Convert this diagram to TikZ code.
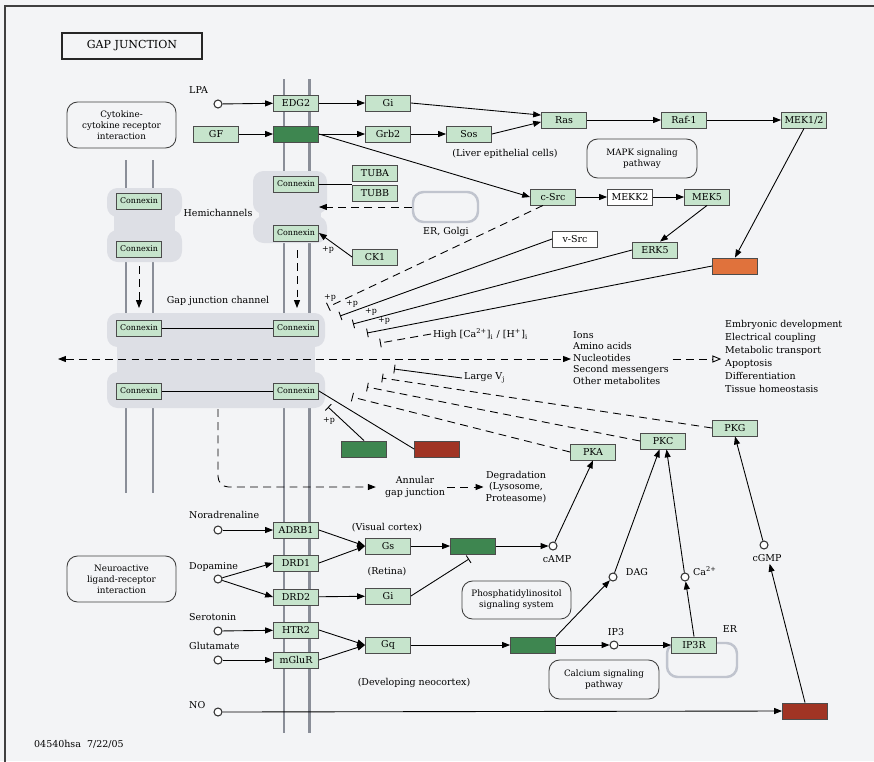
\documentclass[tikz,border=0pt]{standalone}
\usepackage{fontspec}
\setmainfont{DejaVu Serif}
\usetikzlibrary{arrows.meta, calc, positioning}

\definecolor{paper}{RGB}{243,244,246}
\definecolor{genefill}{RGB}{198,228,204}
\definecolor{dkgene}{RGB}{62,134,80}
\definecolor{rdgene}{RGB}{160,52,36}
\definecolor{orgene}{RGB}{224,114,60}
\definecolor{blob}{RGB}{221,223,229}
\definecolor{membr}{RGB}{138,142,152}
\definecolor{ercol}{RGB}{192,196,206}

\newcommand{\gfont}{\fontsize{5.4}{6.5}\selectfont}
\newcommand{\cxfont}{\fontsize{4.5}{5}\selectfont}
\newcommand{\pwfont}{\fontsize{5}{6.2}\selectfont}

\begin{document}
\begin{tikzpicture}[x=0.02cm, y=-0.02cm, line width=0.5pt,
    >={Triangle[length=4.5pt,width=3.4pt]},
    gene/.style={draw=black!70, fill=genefill, minimum width=0.9cm, minimum height=0.32cm, inner sep=0pt, font=\gfont},
    cx/.style={gene, font=\cxfont},
    hit/.style={gene, fill=dkgene},
    hitred/.style={gene, fill=rdgene},
    plain/.style={gene, fill=white},
    mol/.style={circle, draw=black!80, fill=white, minimum size=0.16cm, inner sep=0pt, line width=0.6pt},
    pathway/.style={draw=black!75, rounded corners=6pt, align=center, font=\pwfont, inner sep=0pt},
    lbl/.style={font=\gfont, inner sep=1pt},
    plbl/.style={font=\cxfont, inner sep=0pt},
    inh/.style={-{Bar[width=5pt]}},
    dsh/.style={dash pattern=on 4.5pt off 3pt},
    compart/.style={draw=ercol, line width=1.4pt, rounded corners=6pt}]

    \useasboundingbox (0,0) rectangle (874,761);
    \fill[paper] (0,0) rectangle (874,761);
    \draw[black!75, line width=0.7pt] (5,770) -- (5,6) -- (880,6);

    % Membranes
    \foreach \mx in {126,153}
        \draw[membr, line width=1.7pt] (\mx,160) -- (\mx,493);
    \foreach \mx in {284,309}
        \draw[membr, line width=1.7pt] (\mx,79) -- (\mx,733);

    % Connexons
    \fill[blob, rounded corners=6pt] (107,188) rectangle (182,217);
    \fill[blob] (114,210) rectangle (175,236);
    \fill[blob, rounded corners=6pt] (107,230) rectangle (182,262);
    \fill[blob, rounded corners=6pt] (253,171) rectangle (327,214);
    \fill[blob] (259,205) rectangle (321,225);
    \fill[blob, rounded corners=6pt] (253,216) rectangle (327,243);
    \fill[blob, rounded corners=6pt] (107,313) rectangle (325,347);
    \fill[blob] (117,340) rectangle (315,378);
    \fill[blob, rounded corners=6pt] (107,372) rectangle (325,408);

    % Title and pathway maps
    \node[draw=black!85, line width=0.7pt, minimum width=2.8cm, minimum height=0.52cm, font=\fontsize{6.3}{7}\selectfont] (title) at (132,46) {GAP JUNCTION};
    \node[pathway, minimum width=2.18cm, minimum height=0.92cm] (cyto) at (121.5,125) {Cytokine-\\cytokine receptor\\interaction};
    \node[pathway, minimum width=2.18cm, minimum height=0.92cm] (neuro) at (121.5,579) {Neuroactive\\ligand-receptor\\interaction};
    \node[pathway, minimum width=2.2cm, minimum height=0.78cm] (mapk) at (642,158.5) {MAPK signaling\\pathway};
    \node[pathway, minimum width=2.18cm, minimum height=0.76cm] (pis) at (516.5,600) {Phosphatidylinositol\\signaling system};
    \node[pathway, minimum width=2.2cm, minimum height=0.78cm] (casig) at (604,679.5) {Calcium signaling\\pathway};

    % ER / Golgi compartments
    \node[compart, minimum width=1.3cm, minimum height=0.6cm] (golgi) at (445.5,207) {};
    \node[lbl] (golgilbl) at (446,232) {ER, Golgi};
    \node[compart, minimum width=1.4cm, minimum height=0.68cm] (er) at (702,660) {};
    \node[lbl] (erlbl) at (730,629) {ER};

    % Connexins
    \node[cx] (cx1) at (139,201) {Connexin};
    \node[cx] (cx2) at (139,249) {Connexin};
    \node[cx] (cx3) at (296,184) {Connexin};
    \node[cx] (cx4) at (296,233) {Connexin};
    \node[cx] (cx5) at (139,328) {Connexin};
    \node[cx] (cx6) at (296,328) {Connexin};
    \node[cx] (cx7) at (139,391) {Connexin};
    \node[cx] (cx8) at (296,391) {Connexin};
    \node[lbl] (hemi) at (218,213) {Hemichannels};
    \node[lbl] (gjc) at (218,301) {Gap junction channel};

    % Upper signaling
    \node[lbl, anchor=west] (lpalbl) at (187,90) {LPA};
    \node[mol] (lpa) at (218,104) {};
    \node[gene] (edg2) at (296,103) {EDG2};
    \node[gene] (gi1) at (388,103) {Gi};
    \node[gene] (gf) at (216,134) {GF};
    \node[hit] (rtk) at (296,134) {};
    \node[gene] (grb2) at (388,134) {Grb2};
    \node[gene] (sos) at (469,134) {Sos};
    \node[lbl] (liver) at (505,154) {(Liver epithelial cells)};
    \node[gene] (ras) at (564,120) {Ras};
    \node[gene] (raf) at (684,120) {Raf-1};
    \node[gene] (mek12) at (804,120) {MEK1/2};
    \node[gene] (csrc) at (553,197) {c-Src};
    \node[plain] (mekk2) at (630,197) {MEKK2};
    \node[gene] (mek5) at (707,197) {MEK5};
    \node[gene] (erk5) at (655,250) {ERK5};
    \node[gene, fill=orgene] (mapkx) at (735,266) {};
    \node[plain] (vsrc) at (575,239) {v-Src};
    \node[gene] (tuba) at (375,173) {TUBA};
    \node[gene] (tubb) at (375,193) {TUBB};
    \node[gene] (ck1) at (375,257) {CK1};

    \draw[->] (lpa) -- (edg2);
    \draw[->] (gf) -- (rtk);
    \draw[->] (edg2) -- (gi1);
    \draw[->] (rtk) -- (grb2);
    \draw[->] (grb2) -- (sos);
    \draw[->] (gi1.east) -- ([yshift=2.8pt]ras.west);
    \draw[->] (sos.east) -- ([yshift=-1.1pt]ras.west);
    \draw[->] (ras) -- (raf);
    \draw[->] (raf) -- (mek12);
    \draw[->] (mek12.south) -- (mapkx.north);
    \draw[->] (rtk.east) -- (csrc.west);
    \draw[->] (csrc) -- (mekk2);
    \draw[->] (mekk2) -- (mek5);
    \draw[->] (mek5.south) -- ($(erk5.north)+(5,0)$);
    \draw (cx3.east) -- (cx3.east -| tuba.west);
    \draw[->, dsh] (golgi.west) -- (golgi.west -| cx4.east);
    \draw[->] (ck1.west) -- (cx4.east);
    \node[plbl] (pck1) at (328,250) {+p};

    % Hemichannels to gap junction
    \coordinate (hcl) at (139,266);
    \coordinate (gjl) at (139,308);
    \coordinate (hcr) at (297,250);
    \coordinate (gjr) at (297,308);
    \draw[->, dsh] (hcl) -- (gjl);
    \draw[->, dsh] (hcr) -- (gjr);
    \draw (cx5) -- (cx6);
    \draw (cx7) -- (cx8);

    % Channel closing by phosphorylation
    \coordinate (b1) at (328,307);
    \coordinate (b2) at (340,316);
    \coordinate (b3) at (353,324);
    \coordinate (b4) at (367,333);
    \coordinate (b5) at (380,343);
    \node[lbl, anchor=west] (hica) at (431,334) {High [Ca\textsuperscript{2+}]\textsubscript{i} / [H\textsuperscript{+}]\textsubscript{i}};
    \draw[inh, dsh] ($(csrc.south)+(-10,0)$) -- (b1);
    \draw[inh] (vsrc.west) -- (b2);
    \draw[inh] (erk5.west) -- (b3);
    \draw[inh] (mapkx.west) -- (b4);
    \draw[inh, dsh] (hica.west) -- (b5);
    \node[plbl] (pp1) at (330,298) {+p};
    \node[plbl] (pp2) at (352,304) {+p};
    \node[plbl] (pp3) at (371,312) {+p};
    \node[plbl] (pp4) at (384,321) {+p};

    % Exchange through the channel
    \node[lbl, align=left, anchor=west, font=\fontsize{5.4}{6.5}\selectfont] (ions) at (571,358) {Ions\\Amino acids\\Nucleotides\\Second messengers\\Other metabolites};
    \node[lbl, align=left, anchor=west, font=\fontsize{5.4}{7.4}\selectfont] (roles) at (723,356) {Embryonic development\\Electrical coupling\\Metabolic transport\\Apoptosis\\Differentiation\\Tissue homeostasis};
    \coordinate (leftend) at (58,359);
    \draw[<->, dsh] (leftend) -- (leftend -| ions.west);
    \draw[-{Triangle[open,length=5pt,width=4pt]}, dsh] ([xshift=1pt]ions.east |- leftend) -- ([xshift=-1pt]roles.west |- leftend);

    % Gating by voltage and kinases
    \node[gene] (pka) at (593,452) {PKA};
    \node[gene] (pkc) at (663,441) {PKC};
    \node[gene] (pkg) at (735,428) {PKG};
    \node[lbl, anchor=west] (vj) at (462,378) {Large V\textsubscript{j}};
    \coordinate (b6) at (394,369);
    \coordinate (b7) at (382,378);
    \coordinate (b8) at (367,387);
    \coordinate (b9) at (352,397);
    \coordinate (b10) at (328,407);
    \draw[inh] (vj.west) -- (b6);
    \draw[inh, dsh] (pkg.west) -- (b7);
    \draw[inh, dsh] (pkc.west) -- (b8);
    \draw[inh, dsh] (pka.west) -- (b9);
    \node[hit] (mapk2) at (364,449) {};
    \node[hitred] (ubq) at (437,449) {};
    \draw[inh] (mapk2.north) -- (b10);
    \node[plbl] (pp5) at (329,421) {+p};
    \draw (cx8.east) -- (ubq.west);

    % Internalisation
    \coordinate (gjbot) at (218,409);
    \node[lbl, align=center] (annular) at (415,487) {Annular\\gap junction};
    \node[lbl, align=center] (degr) at (516,487) {Degradation\\(Lysosome,\\Proteasome)};
    \draw[->, dsh, rounded corners=6pt] (gjbot) |- ([xshift=-4pt]annular.west);
    \draw[->, dsh] (annular.east) -- (degr.west);

    % Ligands and receptors
    \node[lbl, anchor=west] (norlbl) at (187,515) {Noradrenaline};
    \node[lbl, anchor=west] (doplbl) at (187,567) {Dopamine};
    \node[lbl, anchor=west] (serlbl) at (187,617) {Serotonin};
    \node[lbl, anchor=west] (glulbl) at (187,646) {Glutamate};
    \node[lbl, anchor=west] (nolbl) at (187,705) {NO};
    \node[mol] (nor) at (218,530) {};
    \node[mol] (dop) at (218,579) {};
    \node[mol] (ser) at (218,631) {};
    \node[mol] (glu) at (218,660) {};
    \node[mol] (no) at (218,712) {};
    \node[gene] (adrb1) at (296,530) {ADRB1};
    \node[gene] (drd1) at (296,563) {DRD1};
    \node[gene] (drd2) at (296,597) {DRD2};
    \node[gene] (htr2) at (296,630) {HTR2};
    \node[gene] (mglur) at (296,660) {mGluR};
    \node[gene] (gs) at (388,546) {Gs};
    \node[gene] (gi2) at (388,596) {Gi};
    \node[gene] (gq) at (388,645) {Gq};
    \node[lbl] (visual) at (387,528) {(Visual cortex)};
    \node[lbl] (retina) at (387,572) {(Retina)};
    \node[lbl] (neocx) at (414,683) {(Developing neocortex)};

    \draw[->] (nor) -- (adrb1);
    \draw[->] (dop) -- (drd1.west);
    \draw[->] (dop) -- (drd2.west);
    \draw[->] (ser) -- (htr2);
    \draw[->] (glu) -- (mglur);
    \draw[->] (adrb1.east) -- (gs.west);
    \draw[->] (drd1.east) -- (gs.west);
    \draw[->] (drd2) -- (gi2);
    \draw[->] (htr2.east) -- (gq.west);
    \draw[->] (mglur.east) -- (gq.west);

    % Second messengers
    \node[hit] (ac) at (473,546) {};
    \node[hit] (plc) at (533,645) {};
    \node[hitred] (gc) at (805,711) {};
    \node[gene] (ip3r) at (694,645) {IP3R};
    \node[mol] (camp) at (553,546) {};
    \node[mol] (dag) at (613,577) {};
    \node[mol] (ip3) at (614,645) {};
    \node[mol] (ca) at (685,577) {};
    \node[mol] (cgmp) at (764,545) {};
    \node[lbl] (camplbl) at (557,559) {cAMP};
    \node[lbl] (daglbl) at (637,572) {DAG};
    \node[lbl] (ip3lbl) at (616,632) {IP3};
    \node[lbl, anchor=west] (calbl) at (691,571) {Ca\textsuperscript{2+}};
    \node[lbl] (cgmplbl) at (767,558) {cGMP};
    \coordinate (acbar) at (469,559);

    \draw[->] (gs) -- (ac);
    \draw[inh] (gi2.east) -- (acbar);
    \draw[->] (ac) -- (camp);
    \draw[->] (camp) -- (pka.south);
    \draw[->] (gq) -- (plc);
    \draw[->] (plc.north east) -- (dag);
    \draw[->] (plc) -- (ip3);
    \draw[->] (ip3) -- (ip3r);
    \draw[->] (ip3r.north) -- (ca);
    \draw[->] (dag) -- ([xshift=-2pt]pkc.south);
    \draw[->] (ca) -- ([xshift=2pt]pkc.south);
    \draw[->] (no) -- (gc.west);
    \draw[->] (gc.north) -- ([xshift=1.5pt]cgmplbl.south);
    \draw[->] (cgmp) -- (pkg.south);

    \node[lbl, anchor=west] (mapid) at (32,744) {04540hsa\ \ 7/22/05};
\end{tikzpicture}
\end{document}
